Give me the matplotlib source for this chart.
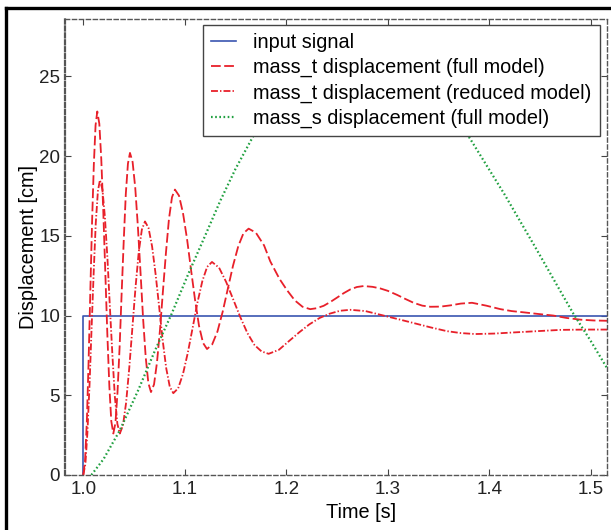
import matplotlib
matplotlib.use("Agg")
import matplotlib.pyplot as plt
from matplotlib.lines import Line2D

plt.rcParams["font.family"] = ["Liberation Sans", "DejaVu Sans"]
plt.rcParams["lines.scale_dashes"] = False

# input signal (step)
t_input = [1.0, 1.0, 1.52]
x_input = [0.0, 10.0, 10.0]

# mass_t displacement, full model
t_full = [1.0, 1.0017, 1.0035, 1.0052, 1.0069, 1.0086, 1.0104, 1.0121, 1.0138,
          1.0158, 1.0177, 1.0197, 1.0217, 1.0237, 1.0257, 1.0276, 1.0296,
          1.0317, 1.0337, 1.0358, 1.0378, 1.0399, 1.0419, 1.044, 1.046,
          1.0486, 1.0512, 1.0538, 1.0564, 1.0589, 1.0615, 1.0641, 1.0667,
          1.0697, 1.0726, 1.0756, 1.0785, 1.0815, 1.0844, 1.0874, 1.0903,
          1.0943, 1.0982, 1.1022, 1.1061, 1.1101, 1.114, 1.118, 1.1219,
          1.127, 1.1322, 1.1373, 1.1424, 1.1475, 1.1527, 1.1578, 1.1629,
          1.170, 1.1781, 1.1842, 1.1933, 1.2006, 1.2084, 1.216, 1.2236,
          1.230, 1.2368, 1.2434, 1.2499, 1.2565, 1.2631, 1.2696, 1.2762,
          1.285, 1.2926, 1.300, 1.309, 1.317, 1.3254, 1.334, 1.342,
          1.352, 1.362, 1.372, 1.383, 1.397, 1.411, 1.422, 1.434,
          1.448, 1.463, 1.476, 1.49, 1.503, 1.517]
x_full = [0.0, 0.87, 3.33, 7.05, 11.4, 15.75, 19.47, 21.93, 22.8,
          22.03, 19.85, 16.56, 12.7, 8.84, 5.55, 3.37, 2.6,
          3.27, 5.17, 8.04, 11.4, 14.76, 17.63, 19.53, 20.2,
          19.63, 18.01, 15.57, 12.7, 9.84, 7.39, 5.77, 5.2,
          5.68, 7.05, 9.12, 11.55, 13.98, 16.05, 17.42, 17.9,
          17.52, 16.44, 14.81, 12.9, 10.99, 9.36, 8.28, 7.9,
          8.19, 9.0, 10.23, 11.68, 13.12, 14.35, 15.16, 15.45,
          15.2, 14.4, 13.4, 12.3, 11.6, 10.95, 10.55, 10.4,
          10.46, 10.61, 10.85, 11.12, 11.4, 11.64, 11.79, 11.85,
          11.8, 11.7, 11.55, 11.3, 11.05, 10.8, 10.62, 10.55,
          10.56, 10.64, 10.75, 10.8, 10.62, 10.4, 10.28, 10.2,
          10.1, 10.0, 9.85, 9.74, 9.69, 9.67]

# mass_t displacement, reduced model
t_red = [1.0, 1.0021, 1.0041, 1.0062, 1.0082, 1.0103, 1.0123, 1.0144, 1.0164,
         1.0189, 1.0213, 1.0238, 1.0262, 1.0287, 1.0311, 1.0336, 1.036,
         1.0391, 1.0422, 1.0453, 1.0484, 1.0515, 1.0546, 1.0577, 1.0608,
         1.0643, 1.0678, 1.0713, 1.0748, 1.0782, 1.0817, 1.0852, 1.0887,
         1.0935, 1.0982, 1.103, 1.1078, 1.1125, 1.1173, 1.122, 1.1268,
         1.1338, 1.1408, 1.1478, 1.1547, 1.1617, 1.1687, 1.1756, 1.1826,
         1.1927, 1.2027, 1.2128, 1.2228, 1.2329, 1.2429, 1.253, 1.263,
         1.278, 1.2926, 1.3123, 1.3254, 1.342, 1.3583, 1.372, 1.3862,
         1.405, 1.424, 1.447, 1.47, 1.495, 1.517]
x_red = [0.0, 0.70, 2.70, 5.72, 9.25, 12.78, 15.8, 17.8, 18.5,
         17.9, 16.18, 13.59, 10.55, 7.51, 4.92, 3.2, 2.6,
         3.11, 4.54, 6.71, 9.25, 11.79, 13.96, 15.39, 15.9,
         15.49, 14.33, 12.57, 10.52, 8.46, 6.7, 5.54, 5.13,
         5.44, 6.33, 7.67, 9.25, 10.82, 12.16, 13.05, 13.36,
         13.0, 12.1, 11.0, 9.9, 8.9, 8.15, 7.75, 7.6,
         7.85, 8.4, 8.95, 9.45, 9.85, 10.12, 10.3, 10.36,
         10.28, 10.05, 9.74, 9.53, 9.26, 9.02, 8.9, 8.84,
         8.87, 8.94, 9.02, 9.1, 9.12, 9.12]

# mass_s displacement, full model (peak hidden behind the legend)
t_s = [1.008, 1.02, 1.036, 1.054, 1.0706, 1.087, 1.1034, 1.12, 1.135,
       1.15, 1.167, 1.19, 1.22, 1.25, 1.27, 1.29, 1.32, 1.35, 1.381,
       1.415, 1.447, 1.473, 1.483, 1.50, 1.517]
x_s = [0.0, 1.0, 2.8, 5.3, 7.8, 10.1, 12.6, 15.0, 17.2,
       19.2, 21.2, 23.6, 25.9, 27.1, 27.4, 27.2, 26.0, 24.0, 21.1,
       17.6, 14.1, 11.2, 10.1, 8.4, 6.6]

x_ticks = [1.0, 1.1, 1.2, 1.3, 1.4, 1.5]
x_tick_labels = ["1.0", "1.1", "1.2", "1.3", "1.4", "1.5"]
y_ticks = [0, 5, 10, 15, 20, 25]

red = "#e8202a"
fig = plt.figure(figsize=(6.11, 5.30), dpi=100)
ax = fig.add_axes([0.1064, 0.1038, 0.8871, 0.8604])

ax.plot(t_input, x_input, color="#3a55b0", lw=1.2, label="input signal")
ax.plot(t_full, x_full, color=red, lw=1.3, ls=(0, (7, 2.5)),
        label="mass_t displacement (full model)")
ax.plot(t_red, x_red, color=red, lw=1.3, ls=(0, (5, 1.5, 1, 1.5)),
        label="mass_t displacement (reduced model)")
ax.plot(t_s, x_s, color="#20a040", lw=1.6, ls=(0, (1.2, 1.8)),
        label="mass_s displacement (full model)")

ax.set_xlim(0.982, 1.516)
ax.set_ylim(0, 28.6)
ax.set_xticks(x_ticks)
ax.set_xticklabels(x_tick_labels)
ax.set_yticks(y_ticks)
ax.tick_params(direction="in", top=True, right=True, length=4, width=0.8,
               colors="#444444", labelcolor="#222222", labelsize=13.5)
ax.tick_params(axis="x", pad=4.5)
ax.tick_params(axis="y", pad=3.5)
for side, sp in ax.spines.items():
    sp.set_linestyle((0, (3, 2)))
    sp.set_color("#555555")
    sp.set_linewidth(1.6 if side == "left" else 1.0)

ax.set_xlabel("Time [s]", fontsize=14.3)
ax.xaxis.set_label_coords(0.546, -0.062)
ax.set_ylabel("Displacement [cm]", fontsize=14.3, labelpad=1)

leg = ax.legend(loc="upper right", bbox_to_anchor=(0.987, 0.987),
                borderaxespad=0, fontsize=14.3, fancybox=False, framealpha=1,
                edgecolor="#444444", handlelength=1.26, handletextpad=0.86,
                labelspacing=0.3, borderpad=0.42)
leg.get_frame().set_linewidth(1.0)

# outer frame around the figure
fig.add_artist(Line2D([5.5 / 611, 5.5 / 611], [0, 1 - 7.5 / 530],
                      transform=fig.transFigure, color="black", lw=2.4))
fig.add_artist(Line2D([5.5 / 611, 1], [1 - 7.5 / 530, 1 - 7.5 / 530],
                      transform=fig.transFigure, color="black", lw=2.4))

fig.savefig("out.png", dpi=100)
